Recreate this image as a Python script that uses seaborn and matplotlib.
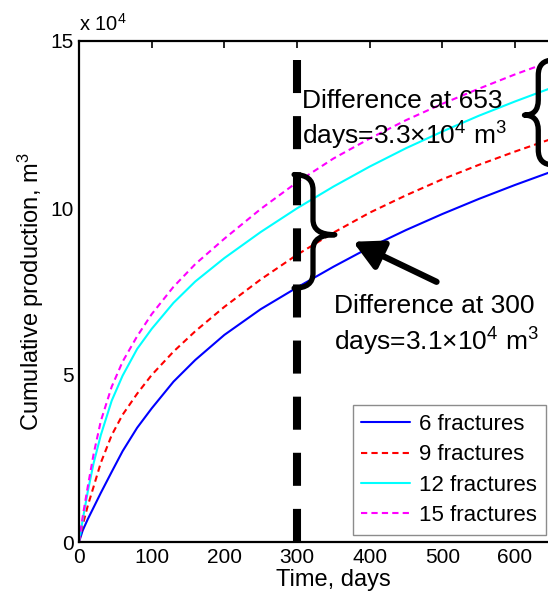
import numpy as np
import pandas as pd
import matplotlib
matplotlib.use("Agg")
import matplotlib.pyplot as plt
from matplotlib.path import Path
from matplotlib.patches import PathPatch
import seaborn as sns

# Cumulative production (units of 10^4 m^3) versus time for each fracture count
days = [0, 5, 12, 20, 30, 45, 60, 80, 100, 130, 160, 200, 250, 300,
        350, 400, 450, 500, 550, 600, 653]
frac6 = [0, 0.34, 0.68, 1.03, 1.47, 2.1, 2.72, 3.42, 4.0, 4.8, 5.45, 6.2, 6.97, 7.62,
         8.24, 8.82, 9.34, 9.82, 10.27, 10.69, 11.11]
frac9 = [0, 0.5, 1.08, 1.65, 2.37, 3.2, 3.81, 4.44, 5.0, 5.7, 6.31, 7.04, 7.86, 8.6,
         9.26, 9.86, 10.38, 10.86, 11.29, 11.69, 12.09]
frac12 = [0, 0.65, 1.5, 2.35, 3.2, 4.23, 4.98, 5.78, 6.38, 7.16, 7.8, 8.5, 9.28, 9.99,
          10.64, 11.24, 11.79, 12.29, 12.76, 13.19, 13.62]
frac15 = [0, 0.75, 1.65, 2.62, 3.62, 4.65, 5.4, 6.16, 6.82, 7.64, 8.32, 9.08, 9.97, 10.77,
          11.48, 12.08, 12.63, 13.12, 13.57, 14.0, 14.42]

series_names = ["6 fractures", "9 fractures", "12 fractures", "15 fractures"]
series_values = [frac6, frac9, frac12, frac15]
series_colors = ["#0000ff", "#ff0000", "#00ffff", "#ff00ff"]
series_dashed = [False, True, False, True]

x_ticks = [0, 100, 200, 300, 400, 500, 600]
y_ticks = [0, 5, 10, 15]

marker_day = 300
note_300 = "Difference at 300\ndays=3.1×10$^4$ m$^3$"
note_653 = "Difference at 653\ndays=3.3×10$^4$ m$^3$"

df = pd.DataFrame({
    "day": np.tile(days, len(series_names)),
    "prod": np.concatenate(series_values),
    "series": np.repeat(series_names, len(days)),
})

sns.set_style("white")
plt.rcParams["font.family"] = ["Liberation Sans", "DejaVu Sans"]
plt.rcParams["mathtext.fontset"] = "custom"
plt.rcParams["mathtext.rm"] = "Liberation Sans"
plt.rcParams["mathtext.it"] = "Liberation Sans:italic"
plt.rcParams["mathtext.bf"] = "Liberation Sans:bold"
plt.rcParams["lines.scale_dashes"] = False
for key in ["text.color", "axes.labelcolor", "xtick.color", "ytick.color"]:
    plt.rcParams[key] = "black"

fig = plt.figure(figsize=(5.48, 5.98), dpi=100)
ax = fig.add_axes([79 / 548, 56 / 598, 700 * 0.7267 / 548, 501 / 598])
ax.set_xlim(0, 700)
ax.set_ylim(0, 15)

for name, color in zip(series_names, series_colors):
    sub = df[df["series"] == name]
    sns.lineplot(data=sub, x="day", y="prod", ax=ax, color=color,
                 linewidth=1.5, label=name, estimator=None, sort=False)
for line, dashed in zip(ax.get_lines(), series_dashed):
    if dashed:
        line.set_dashes((4.5, 3.0))

# Thick dashed marker line at 300 days
ax.plot([marker_day, marker_day], [14.43, 0], color="black", linewidth=5.8,
        dashes=(23.8, 16.6), dash_capstyle="butt", zorder=5, clip_on=False)


def curly_brace(ax, x_end, x_spine, x_tip, y_low, y_high, y_mid, r, lw=3.8):
    verts = [
        (x_end, y_high), (x_spine, y_high), (x_spine, y_high - r),
        (x_spine, y_mid + r),
        (x_spine, y_mid), (x_tip, y_mid),
        (x_spine, y_mid), (x_spine, y_mid - r),
        (x_spine, y_low + r),
        (x_spine, y_low), (x_end, y_low),
    ]
    codes = [Path.MOVETO, Path.CURVE3, Path.CURVE3, Path.LINETO,
             Path.CURVE3, Path.CURVE3, Path.CURVE3, Path.CURVE3,
             Path.LINETO, Path.CURVE3, Path.CURVE3]
    ax.add_patch(PathPatch(Path(verts, codes), facecolor="none",
                           edgecolor="black", linewidth=lw, zorder=6,
                           clip_on=False, capstyle="round", joinstyle="round"))


curly_brace(ax, 296, 322, 352, 7.6, 11.0, 9.2, 0.45)
curly_brace(ax, 653, 632, 613, 11.29, 14.43, 12.78, 0.45)

ax.annotate("", xy=(377, 8.99), xytext=(492, 7.79),
            arrowprops=dict(arrowstyle="-|>,head_length=0.8,head_width=0.42",
                            mutation_scale=22, lw=4.5, color="black",
                            shrinkA=0, shrinkB=0), zorder=7)

ax.text(307, 12.62, note_653, fontsize=19, ha="left", va="center",
        linespacing=1.3, zorder=8)
ax.text(351, 6.47, note_300, fontsize=19, ha="left", va="center",
        linespacing=1.3, zorder=8)

ax.text(0.0, 1.012, "x 10$^4$", transform=ax.transAxes, fontsize=14.5,
        ha="left", va="bottom")

ax.set_xticks(x_ticks)
ax.set_yticks(y_ticks)
ax.set_xticklabels([str(t) for t in x_ticks])
ax.set_yticklabels([str(t) for t in y_ticks])
ax.tick_params(direction="in", length=5, width=1.2, labelsize=15,
               top=True, right=True, color="black", pad=4)
for s in ax.spines.values():
    s.set_linewidth(1.6)
    s.set_color("black")

ax.set_xlabel("Time, days", fontsize=17, labelpad=2)
ax.set_ylabel("Cumulative production, m$^3$", fontsize=17, labelpad=3)

leg = ax.legend(loc="lower right", bbox_to_anchor=(546 / 548, 1 - 535 / 598),
                bbox_transform=fig.transFigure, fontsize=16, frameon=True,
                fancybox=False, framealpha=1, edgecolor="#8c8c8c",
                handlelength=2.2, handletextpad=0.4, labelspacing=0.42,
                borderpad=0.4, borderaxespad=0)
leg.get_frame().set_linewidth(1.0)
leg.set_zorder(9)

fig.savefig("out.png", dpi=100)
